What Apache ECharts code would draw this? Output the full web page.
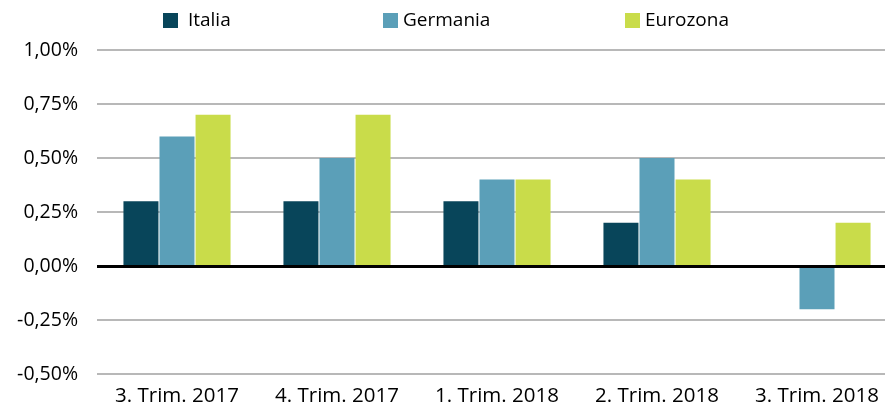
<!DOCTYPE html>
<html>
<head>
<meta charset="utf-8">
<script src="https://cdn.jsdelivr.net/npm/echarts@6/dist/echarts.min.js"></script>
<style>
  html, body { margin: 0; padding: 0; background: #fff; overflow: hidden; }
  #chart { width: 897px; height: 410px; }
</style>
</head>
<body>
<div id="chart"></div>
<script>
  // dati (variazione % trimestrale)
  var categories = ['3. Trim. 2017', '4. Trim. 2017', '1. Trim. 2018', '2. Trim. 2018', '3. Trim. 2018'];
  var italia = [0.30, 0.30, 0.30, 0.20, null];
  var germania = [0.60, 0.50, 0.40, 0.50, -0.20];
  var eurozona = [0.70, 0.70, 0.40, 0.40, 0.20];
  var seriesNames = ['Italia', 'Germania', 'Eurozona'];
  var colors = ['#08455a', '#5b9fb8', '#c9dc4a'];

  var font = '"Open Sans", "Noto Sans", sans-serif';
  var chart = echarts.init(document.getElementById('chart'));

  function legendAt(name, left, label) {
    return {
      data: [name],
      left: left,
      top: 6,
      itemWidth: 15,
      itemHeight: 15,
      icon: 'rect',
      formatter: function () { return label; },
      textStyle: { fontFamily: font, fontSize: 19, color: '#000' }
    };
  }

  chart.setOption({
    animation: false,
    color: colors,
    legend: [
      legendAt(seriesNames[0], 158, ' ' + seriesNames[0]),
      legendAt(seriesNames[1], 378, seriesNames[1]),
      legendAt(seriesNames[2], 620, seriesNames[2])
    ],
    // il grafico originale prosegue oltre il bordo destro: area di disegno larga 800px
    grid: { left: 97, right: 0, top: 50, bottom: 36 },
    xAxis: {
      type: 'category',
      data: categories,
      axisLine: { show: false },
      axisTick: { show: false },
      axisLabel: { interval: 0, fontFamily: font, fontSize: 20.5, color: '#000', margin: 12 }
    },
    yAxis: {
      type: 'value',
      min: -0.5,
      max: 1.0,
      interval: 0.25,
      axisLine: { show: false },
      axisTick: { show: false },
      axisLabel: {
        fontFamily: font, fontSize: 19.5, color: '#000', margin: 19,
        formatter: function (v) { return v.toFixed(2).replace('.', ',') + '%'; }
      },
      splitLine: { lineStyle: { color: '#a0a0a0', width: 1.5 } }
    },
    series: [
      { name: seriesNames[0], type: 'bar', data: italia, barWidth: 35, barGap: '3%',
        markLine: {
          silent: true, symbol: 'none', label: { show: false },
          lineStyle: { color: '#000', width: 3, type: 'solid' },
          data: [{ yAxis: 0 }]
        } },
      { name: seriesNames[1], type: 'bar', data: germania, barWidth: 35, barGap: '3%' },
      { name: seriesNames[2], type: 'bar', data: eurozona, barWidth: 35, barGap: '3%' }
    ]
  });
</script>
</body>
</html>
